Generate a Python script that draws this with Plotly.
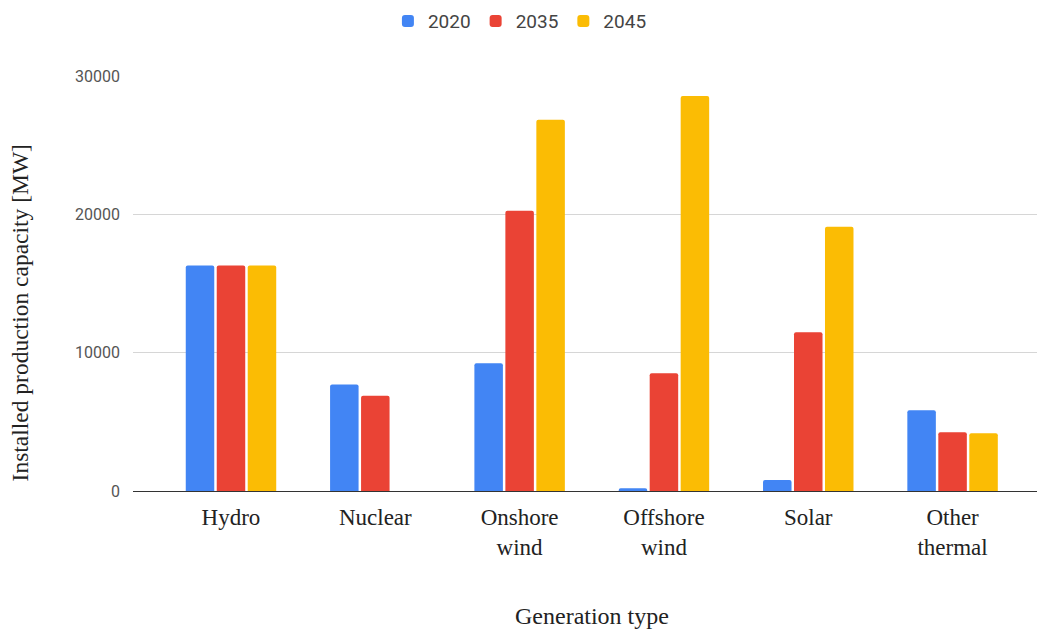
import plotly.graph_objects as go

# Installed capacity by generation type (MW)
categories = ["Hydro", "Nuclear", "Onshore<br>wind", "Offshore<br>wind", "Solar", "Other<br>thermal"]
cap_2020 = [16300, 7700, 9230, 200, 800, 5840]
cap_2035 = [16300, 6880, 20260, 8510, 11470, 4250]
cap_2045 = [16300, 0, 26830, 28560, 19110, 4180]
series_names = ["2020", "2035", "2045"]
series_colors = ["#4285F4", "#EA4335", "#FBBC04"]
y_ticks = [0, 10000, 20000, 30000]

SERIF = "Liberation Serif, Times New Roman, serif"
SANS = "Roboto, Arial, sans-serif"

fig = go.Figure()
for name, vals, col in zip(series_names, [cap_2020, cap_2035, cap_2045], series_colors):
    fig.add_trace(go.Bar(
        name=name, x=categories, y=vals,
        marker=dict(color=col, line=dict(width=0)),
    ))

fig.update_layout(
    width=1040, height=630,
    margin=dict(l=133, r=3, t=75, b=139),
    paper_bgcolor="white", plot_bgcolor="white",
    barmode="group", bargap=0.356, bargroupgap=0.08, barcornerradius=2,
    legend=dict(
        orientation="h", x=0.428, xanchor="center", y=1.175, yanchor="top",
        font=dict(family=SANS, size=19, color="#444"),
        itemwidth=30,
    ),
    xaxis=dict(
        type="category", range=[-0.679, 5.585],
        showgrid=False, showline=False, zeroline=False,
        tickfont=dict(family=SERIF, size=23, color="#222"),
        ticks="", ticklabelstandoff=10,
    ),
    yaxis=dict(
        range=[0, 30000], tickvals=y_ticks, ticktext=[str(v) for v in y_ticks],
        showgrid=True, gridcolor="#d6d6d6", gridwidth=1,
        zeroline=True, zerolinecolor="#333", zerolinewidth=1.3,
        showline=False, ticks="", ticklabelstandoff=12,
        tickfont=dict(family=SANS, size=16, color="#555"),
    ),
    annotations=[
        dict(text="Installed production capacity [MW]", xref="paper", yref="paper",
             x=-0.125, y=(491 - 313) / 416, xanchor="center", yanchor="middle", textangle=-90,
             showarrow=False, font=dict(family=SERIF, size=23.5, color="#222")),
        dict(text="Generation type", xref="paper", yref="paper",
             x=(592 - 133) / 904, y=-(616 - 491) / 416, xanchor="center", yanchor="middle",
             showarrow=False, font=dict(family=SERIF, size=24, color="#222")),
    ],
)

fig.write_html("out.html")
